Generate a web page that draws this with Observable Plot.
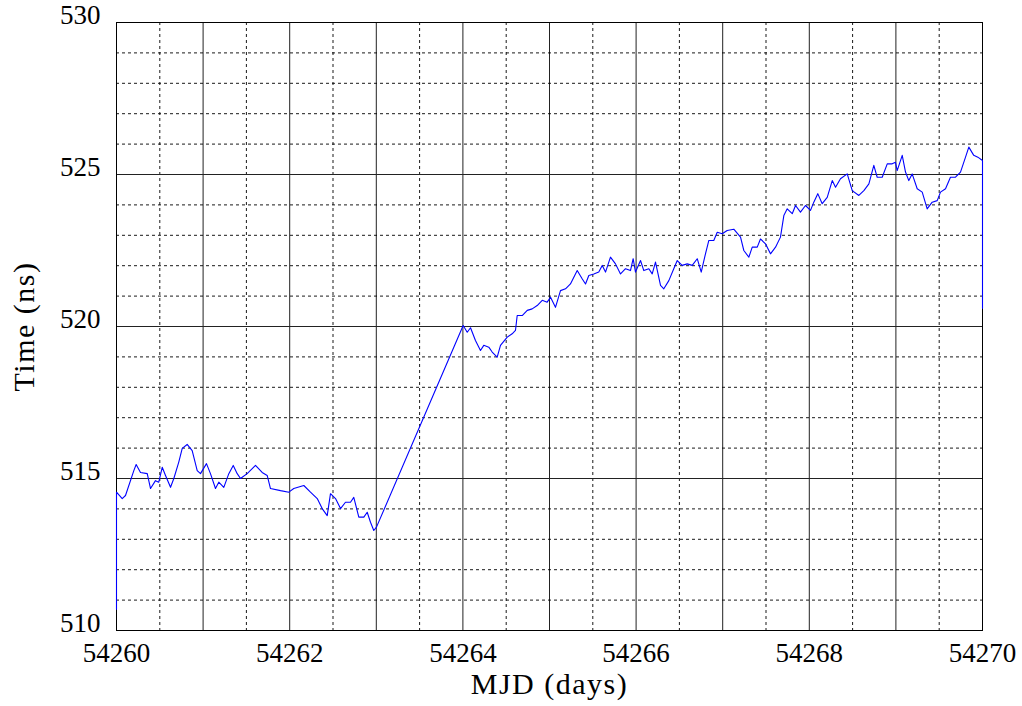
<!DOCTYPE html>
<html>
<head>
<meta charset="utf-8">
<script src="https://cdn.jsdelivr.net/npm/d3@7"></script>
<script src="https://cdn.jsdelivr.net/npm/@observablehq/plot@0.6"></script>
<style>
  html, body { margin: 0; padding: 0; background: #fff; }
  #chart svg { display: block; }
</style>
</head>
<body>
<div id="chart"></div>
<script>
// ---- data ----
const mjdBase = 54260;
const dayOffset = [
  0.000, 0.000, 0.066, 0.104, 0.200, 0.227, 0.277, 0.355, 0.393, 0.450, 0.488,
  0.528, 0.566, 0.624, 0.662, 0.719, 0.759, 0.816, 0.874, 0.932, 0.970,
  1.039, 1.085, 1.143, 1.181, 1.239, 1.297, 1.348, 1.394, 1.432, 1.509,
  1.605, 1.682, 1.740, 1.778, 1.894, 1.990, 2.047, 2.163, 2.240, 2.318,
  2.375, 2.433, 2.471, 2.529, 2.587, 2.644, 2.702, 2.740, 2.798, 2.856,
  2.895, 2.933, 2.971, 3.002,
  4.003, 4.050, 4.088, 4.145, 4.203, 4.241, 4.299, 4.338, 4.396, 4.434,
  4.512, 4.569, 4.607, 4.627, 4.685, 4.743, 4.800, 4.858, 4.916, 4.973,
  5.012, 5.069, 5.127, 5.185, 5.242, 5.320, 5.377, 5.416, 5.454, 5.512,
  5.569, 5.609, 5.647, 5.704, 5.762, 5.820, 5.878, 5.935, 5.966, 5.993,
  6.051, 6.089, 6.147, 6.186, 6.224, 6.282, 6.320, 6.378, 6.435, 6.475,
  6.532, 6.590, 6.648, 6.706, 6.752, 6.801, 6.840, 6.897, 6.937, 6.994,
  7.052, 7.128, 7.206, 7.244, 7.302, 7.341, 7.399, 7.436, 7.494, 7.552,
  7.610, 7.667, 7.706, 7.745, 7.803, 7.841, 7.898, 7.956, 8.014, 8.052,
  8.098, 8.149, 8.207, 8.265, 8.303, 8.360, 8.438, 8.496, 8.572, 8.630,
  8.688, 8.745, 8.784, 8.842, 8.900, 8.957, 8.995, 9.015, 9.073, 9.111,
  9.149, 9.188, 9.246, 9.304, 9.361, 9.419, 9.477, 9.515, 9.573, 9.630,
  9.688, 9.746, 9.804, 9.842, 9.899, 9.946, 10.000, 10.000
];
const timeNs = [
  510.70, 514.55, 514.34, 514.44, 515.26, 515.46, 515.20, 515.16, 514.67, 514.93, 514.88,
  515.37, 515.10, 514.71, 515.00, 515.54, 515.99, 516.12, 515.92, 515.26, 515.16,
  515.49, 515.16, 514.67, 514.88, 514.71, 515.16, 515.43, 515.16, 515.00, 515.16,
  515.43, 515.20, 515.10, 514.67, 514.60, 514.55, 514.67, 514.77, 514.55, 514.34,
  514.01, 513.78, 514.50, 514.34, 514.01, 514.22, 514.22, 514.38, 513.73, 513.73,
  513.89, 513.56, 513.29, 513.40,
  520.03, 519.81, 519.96, 519.54, 519.21, 519.38, 519.32, 519.16, 518.99, 519.38,
  519.65, 519.76, 519.87, 520.36, 520.36, 520.53, 520.58, 520.69, 520.86, 520.80,
  520.96, 520.63, 521.18, 521.24, 521.40, 521.84, 521.57, 521.40, 521.68, 521.73,
  521.79, 522.01, 521.79, 522.28, 522.06, 521.73, 521.90, 521.84, 522.23, 521.79,
  522.17, 521.84, 521.90, 521.73, 522.12, 521.35, 521.24, 521.51, 521.90, 522.17,
  522.01, 522.06, 522.01, 522.23, 521.79, 522.39, 522.83, 522.83, 523.10, 523.05,
  523.16, 523.20, 522.94, 522.50, 522.28, 522.61, 522.61, 522.88, 522.72, 522.39,
  522.61, 522.94, 523.65, 523.87, 523.71, 523.98, 523.76, 523.98, 523.82, 524.09,
  524.37, 524.04, 524.25, 524.80, 524.58, 524.86, 525.02, 524.47, 524.31, 524.47,
  524.69, 525.30, 524.91, 524.91, 525.35, 525.35, 525.40, 525.13, 525.63, 525.08,
  524.80, 525.02, 524.53, 524.42, 523.87, 524.09, 524.14, 524.42, 524.53, 524.91,
  524.91, 525.08, 525.57, 525.90, 525.63, 525.57, 525.46, 520.60
];
const xTicks = [54260, 54262, 54264, 54266, 54268, 54270];
const yTicks = [510, 515, 520, 525, 530];
const xMajorGrid = [54261, 54262, 54263, 54264, 54265, 54266, 54267, 54268, 54269];
const xMinorGrid = [54260.5, 54261.5, 54262.5, 54263.5, 54264.5, 54265.5, 54266.5, 54267.5, 54268.5, 54269.5];
const yMajorGrid = [515, 520, 525];
const yMinorGrid = [511, 512, 513, 514, 516, 517, 518, 519, 521, 522, 523, 524, 526, 527, 528, 529];
const xLabel = "MJD (days)";
const yLabel = "Time (ns)";

const series = dayOffset.map((d, i) => ({mjd: mjdBase + d, t: timeNs[i]}));

const chart = Plot.plot({
  width: 1022,
  height: 706,
  marginLeft: 116,
  marginRight: 40,
  marginTop: 22,
  marginBottom: 76,
  style: {fontFamily: "'Liberation Serif', serif", fontSize: "27px", background: "#fff", color: "#000"},
  x: {domain: [54260, 54270]},
  y: {domain: [510, 530]},
  marks: [
    Plot.ruleX(xMinorGrid, {stroke: "#000", strokeWidth: 1, strokeDasharray: "3,3", strokeOpacity: 0.9}),
    Plot.ruleX(xMajorGrid, {stroke: "#222", strokeWidth: 1}),
    Plot.ruleY(yMinorGrid, {stroke: "#000", strokeWidth: 1, strokeDasharray: "3,3", strokeOpacity: 0.9}),
    Plot.ruleY(yMajorGrid, {stroke: "#222", strokeWidth: 1}),
    Plot.frame({stroke: "#000", strokeWidth: 1}),
    Plot.line(series, {x: "mjd", y: "t", stroke: "#0000ff", strokeWidth: 1.1}),
    Plot.axisX({ticks: xTicks, tickSize: 0, tickPadding: 12, tickFormat: d => String(d), label: null, fontSize: 27}),
    Plot.axisY({ticks: yTicks, tickSize: 0, tickPadding: 16, dy: -7, tickFormat: d => String(d), label: null, fontSize: 27}),
    Plot.text([xLabel], {frameAnchor: "bottom", dy: 54, fontSize: 30, lineAnchor: "middle", textAnchor: "middle", text: d => d, style: "letter-spacing: 1.5px"}),
    Plot.text([yLabel], {frameAnchor: "left", dx: -92, rotate: -90, fontSize: 30, lineAnchor: "middle", textAnchor: "middle", text: d => d})
  ]
});
chart.querySelectorAll("text").forEach(t => {
  if (t.textContent === xLabel || t.textContent === yLabel) t.setAttribute("letter-spacing", "1.5");
});
document.getElementById("chart").appendChild(chart);
</script>
</body>
</html>
